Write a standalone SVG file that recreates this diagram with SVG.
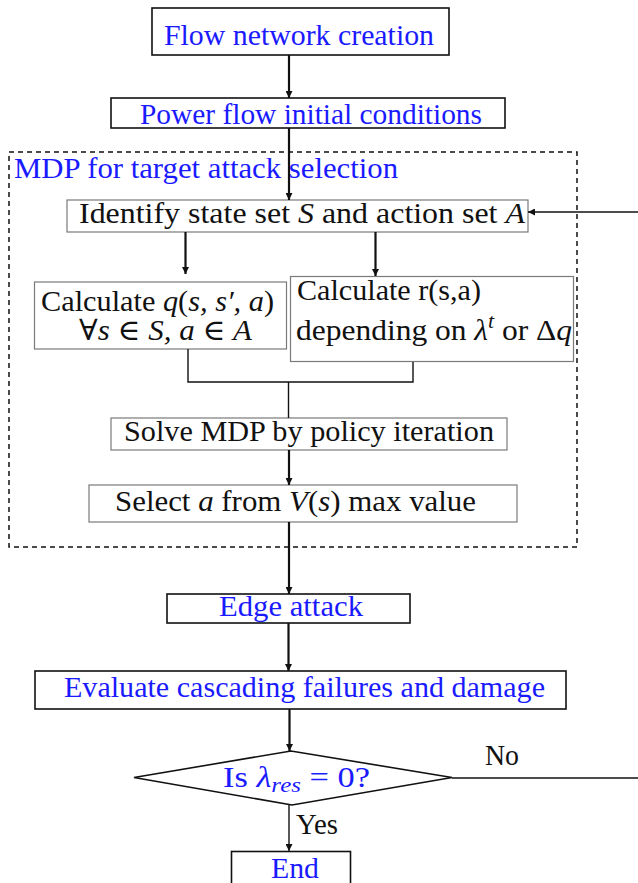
<svg xmlns="http://www.w3.org/2000/svg" width="638" height="883" viewBox="0 0 638 883" font-family="Liberation Serif, DejaVu Serif, serif" font-size="29">
<style>
.b{fill:#1a1aff;}
.k{fill:#111;}
.bx{fill:#fff;stroke:#111;stroke-width:1.6;}
.gx{fill:#fff;stroke:#7a7a7a;stroke-width:1.2;}
.i{font-style:italic;}
.ln{fill:none;stroke:#111;stroke-width:2.2;}
.th{fill:none;stroke:#111;stroke-width:1.4;}
</style>
<defs>
<marker id="ah2" viewBox="0 0 10 10" refX="10" refY="5" markerWidth="10" markerHeight="7" orient="auto" markerUnits="userSpaceOnUse">
<path d="M0,0 L10,5 L0,10 z" fill="#111"/>
</marker>
</defs>

<rect x="9" y="152" width="568" height="395" fill="none" stroke="#111" stroke-width="1.5" stroke-dasharray="5,4"/>

<g id="n1"><rect class="bx" x="152" y="8" width="297" height="47"/><text class="b" x="164" y="45" textLength="270" lengthAdjust="spacingAndGlyphs">Flow network creation</text></g>
<g id="n2"><rect class="bx" x="111" y="98" width="394" height="30"/><text class="b" x="140" y="124" textLength="342" lengthAdjust="spacingAndGlyphs">Power flow initial conditions</text></g>
<g id="mdp"><text class="b" x="14" y="178" textLength="384" lengthAdjust="spacingAndGlyphs">MDP for target attack selection</text></g>
<g id="n3"><rect class="gx" x="67" y="200" width="461" height="32"/><text class="k" x="79" y="223" textLength="446" lengthAdjust="spacingAndGlyphs">Identify state set <tspan class="i">S</tspan> and action set <tspan class="i">A</tspan></text></g>
<g id="n4"><rect class="gx" x="34.5" y="282" width="252" height="67"/><text class="k" x="41" y="311" textLength="233" lengthAdjust="spacingAndGlyphs">Calculate <tspan class="i">q</tspan>(<tspan class="i">s, s′, a</tspan>)</text><text class="k" x="79" y="340" textLength="173" lengthAdjust="spacingAndGlyphs">∀<tspan class="i">s</tspan> ∈ <tspan class="i">S, a</tspan> ∈ <tspan class="i">A</tspan></text></g>
<g id="n5"><rect class="gx" x="290.5" y="276.5" width="283" height="85"/><text class="k" x="297" y="300" textLength="184" lengthAdjust="spacingAndGlyphs">Calculate r(s,a)</text><text class="k" x="296" y="340" textLength="276" lengthAdjust="spacingAndGlyphs">depending on <tspan class="i">λ</tspan><tspan class="i" font-size="20" dy="-12">t</tspan><tspan dy="12"> or Δ</tspan><tspan class="i">q</tspan></text></g>
<g id="n6"><rect class="gx" x="111" y="418" width="396" height="32"/><text class="k" x="124" y="441" textLength="370" lengthAdjust="spacingAndGlyphs">Solve MDP by policy iteration</text></g>
<g id="n7"><rect class="gx" x="89" y="485" width="428" height="37"/><text class="k" x="115" y="511" textLength="361" lengthAdjust="spacingAndGlyphs">Select <tspan class="i">a</tspan> from <tspan class="i">V</tspan>(<tspan class="i">s</tspan>) max value</text></g>
<g id="n8"><rect class="bx" x="167" y="594" width="243" height="29"/><text class="b" x="219" y="616" textLength="144" lengthAdjust="spacingAndGlyphs">Edge attack</text></g>
<g id="n9"><rect class="bx" x="35" y="671" width="531" height="38"/><text class="b" x="64" y="697" textLength="481" lengthAdjust="spacingAndGlyphs">Evaluate cascading failures and damage</text></g>
<g id="n10"><polygon class="bx" points="134,777.5 291,751 452,777.5 292,805"/><text class="b" x="223" y="787" textLength="147" lengthAdjust="spacingAndGlyphs">Is <tspan class="i">λ</tspan><tspan class="i" font-size="21" dy="5">res</tspan><tspan dy="-5"> = 0?</tspan></text></g>
<g id="n11"><rect class="bx" x="231.5" y="851.5" width="119" height="40"/><text class="b" x="271" y="878" textLength="48" lengthAdjust="spacingAndGlyphs">End</text></g>

<g id="connectors">
<line class="ln" x1="289" y1="55" x2="289" y2="98" marker-end="url(#ah2)"/>
<line class="ln" x1="289" y1="128" x2="289" y2="200" marker-end="url(#ah2)"/>
<line class="th" x1="638" y1="212" x2="528" y2="212" marker-end="url(#ah2)"/>
<line class="ln" x1="185.5" y1="232" x2="185.5" y2="274" marker-end="url(#ah2)"/>
<line class="ln" x1="375.5" y1="232" x2="375.5" y2="276" marker-end="url(#ah2)"/>
<polyline class="th" points="188,349 188,382 413,382 413,362"/>
<line class="th" x1="288.5" y1="382" x2="288.5" y2="418"/>
<line class="ln" x1="289" y1="450" x2="289" y2="485" marker-end="url(#ah2)"/>
<line class="ln" x1="289" y1="522" x2="289" y2="594" marker-end="url(#ah2)"/>
<line class="ln" x1="288.5" y1="623" x2="288.5" y2="671" marker-end="url(#ah2)"/>
<line class="ln" x1="289.5" y1="709" x2="289.5" y2="751" marker-end="url(#ah2)"/>
<line class="th" x1="289" y1="805" x2="289" y2="851" marker-end="url(#ah2)"/>
<line class="th" x1="452" y1="778" x2="638" y2="778"/>
<text class="k" x="485" y="765" textLength="34" lengthAdjust="spacingAndGlyphs">No</text>
<text class="k" x="296" y="834" textLength="42" lengthAdjust="spacingAndGlyphs">Yes</text>
</g>
</svg>
